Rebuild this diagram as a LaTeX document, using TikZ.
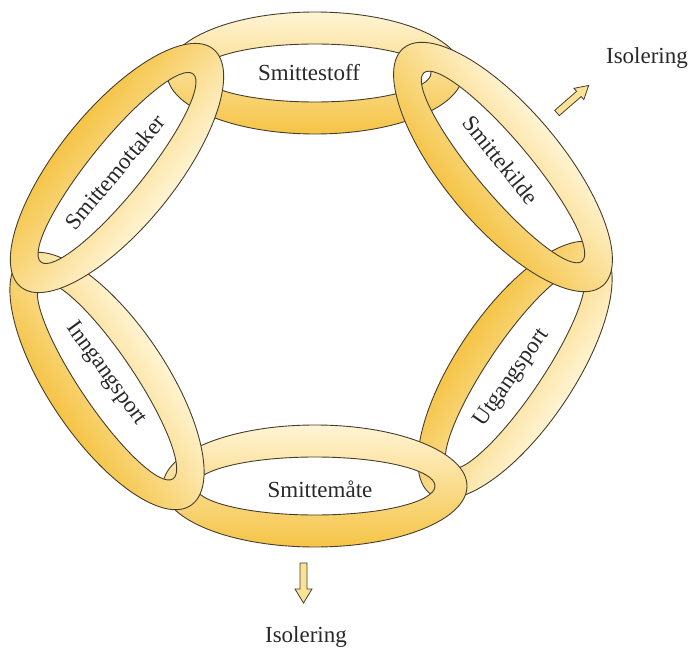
\documentclass[tikz,border=0pt]{standalone}
\usepackage{fontspec}
\setmainfont{Liberation Serif}
\definecolor{ringdark}{RGB}{245,196,70}
\definecolor{ringlight}{RGB}{255,244,212}
\definecolor{ringedge}{RGB}{70,62,45}
\definecolor{arrowfill}{RGB}{250,226,150}
\definecolor{txt}{RGB}{40,40,40}
\newcommand\chainring[8]{% cx, cy (screen), angle, outer a, outer b, inner a, inner b, shading
  \begin{scope}[transform canvas={shift={(#1,-#2)}, rotate=#3}]
    \shade[even odd rule, #8] (0,0) ellipse [x radius=#4, y radius=#5] (0,0) ellipse [x radius=#6, y radius=#7];
    \draw[ringedge, line width=0.9pt] (0,0) ellipse [x radius=#4, y radius=#5] (0,0) ellipse [x radius=#6, y radius=#7];
  \end{scope}}
\begin{document}
\begin{tikzpicture}[x=1pt,y=1pt]
\tikzset{
  lbl/.style={font=\fontsize{23}{26}\selectfont, text=txt, inner sep=0pt},
  darkdown/.style={top color=ringlight, bottom color=ringdark},
  darkup/.style={top color=ringdark, bottom color=ringlight},
  blockarrow/.style={fill=arrowfill, draw=ringedge, line width=0.8pt, line join=miter},
}
\useasboundingbox (0,0) rectangle (691,-652);
% rings, from back to front
\chainring{315}{73}{0}{148}{61}{116}{29}{darkdown}
\chainring{515}{370}{56}{150}{59}{118}{27}{darkup}
\chainring{315}{486}{0}{152}{61}{120}{29}{darkdown}
\chainring{107}{381}{-56}{150}{59}{118}{27}{darkdown}
\chainring{117}{168}{51}{153}{59}{121}{27}{darkup}
\chainring{503}{167}{-50}{155}{59}{123}{27}{darkdown}
% labels
\node[lbl] (smittestoff) at (309,-73) {Smittestoff};
\node[lbl, rotate=-51] (smittekilde) at (501,-160) {Smittekilde};
\node[lbl, rotate=55] (utgangsport) at (512,-378) {Utgangsport};
\node[lbl] (smittemate) at (320,-489) {Smittemåte};
\node[lbl, rotate=-54] (inngangsport) at (106,-374) {Inngangsport};
\node[lbl, rotate=50] (smittemottaker) at (115,-172) {Smittemottaker};
\node[lbl] (isoA) at (647,-58) {Isolering};
\node[lbl] (isoB) at (306,-637) {Isolering};
% block arrows
\begin{scope}[shift={(557,-113)}, rotate=41]
  \draw[blockarrow] (0,-3.5) -- (29,-3.5) -- (29,-7.5) -- (42,0) -- (29,7.5) -- (29,3.5) -- (0,3.5) -- cycle;
\end{scope}
\begin{scope}[shift={(303.5,-563)}, rotate=-90]
  \draw[blockarrow] (0,-3.5) -- (26,-3.5) -- (26,-8.5) -- (40,0) -- (26,8.5) -- (26,3.5) -- (0,3.5) -- cycle;
\end{scope}
\end{tikzpicture}
\end{document}
